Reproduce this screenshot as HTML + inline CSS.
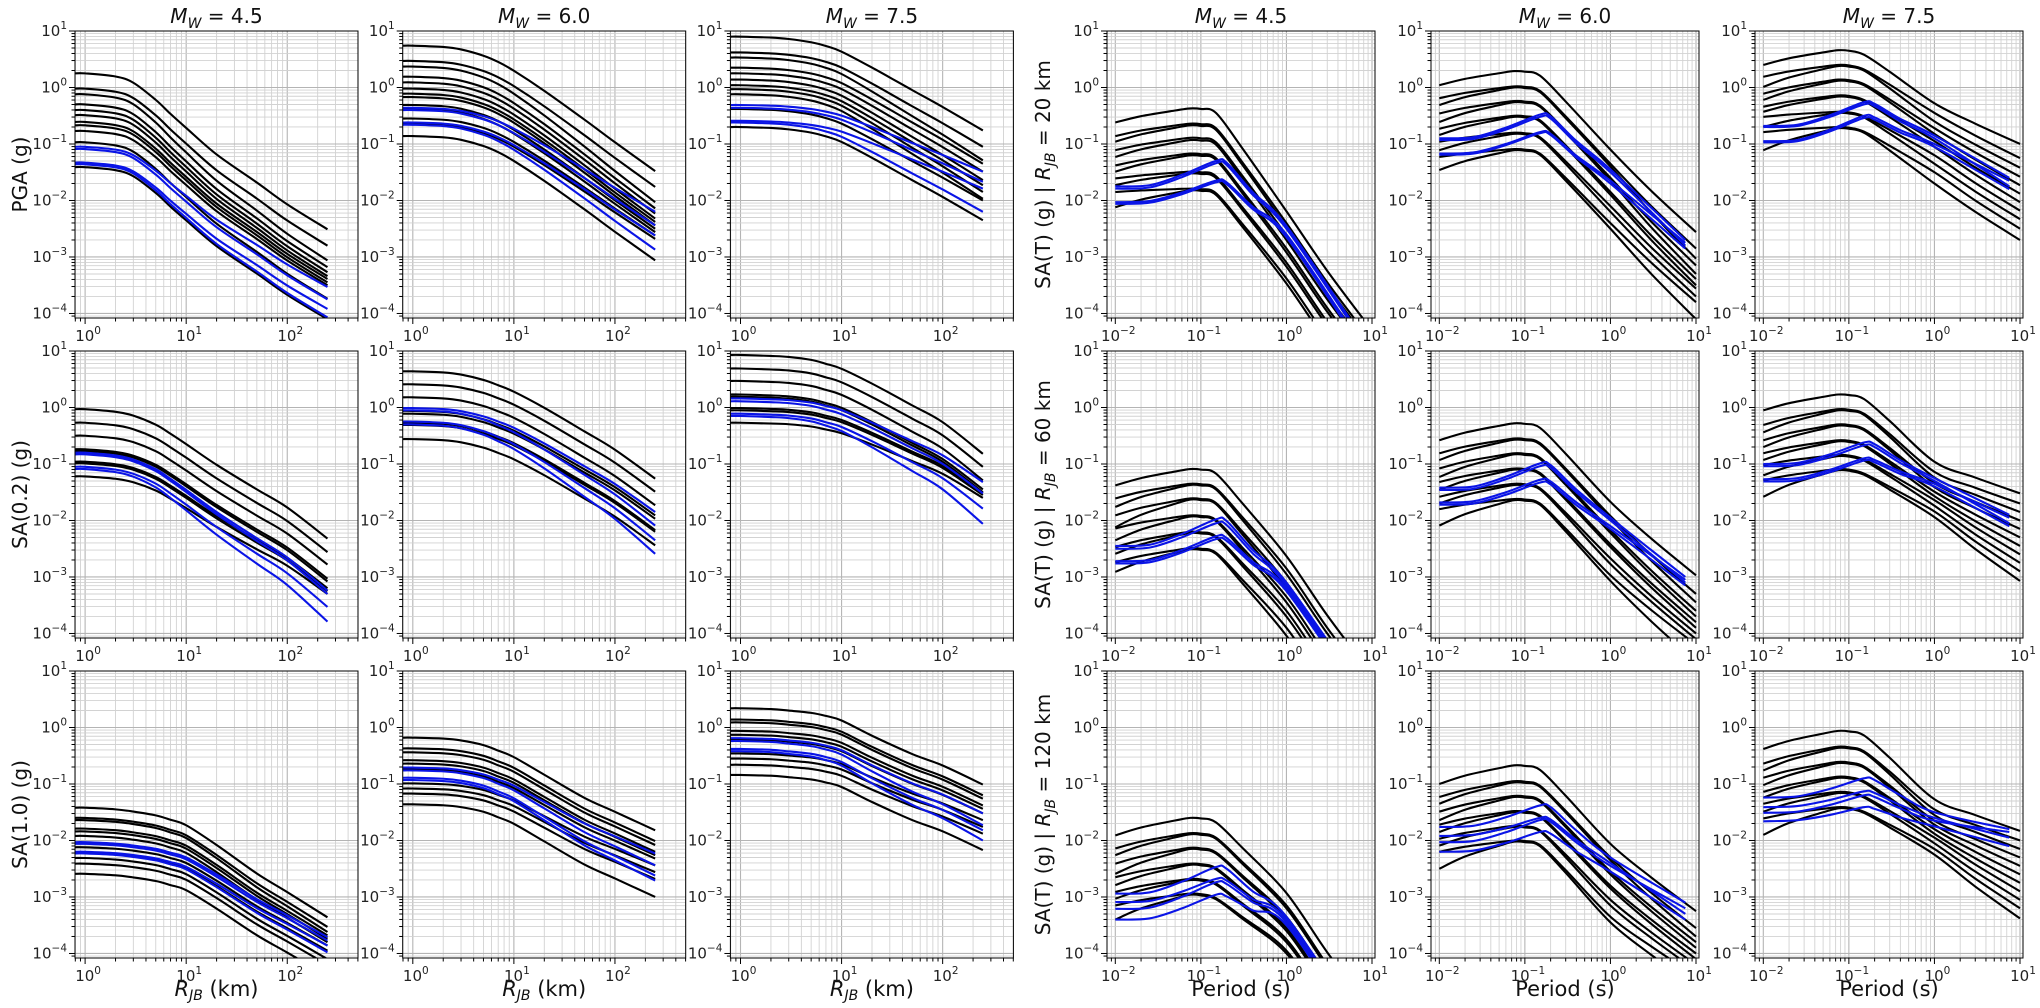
<!DOCTYPE html>
<html><head><meta charset="utf-8"><title>GMM attenuation and spectra</title>
<style>
html,body{margin:0;padding:0;background:#fff;overflow:hidden;width:2040px;height:1008px;}
svg{display:block;font-family:"DejaVu Sans","Liberation Sans",sans-serif;}
</style></head>
<body>
<svg id="chart" width="2040" height="1008" viewBox="0 0 2040 1008" xmlns="http://www.w3.org/2000/svg"></svg>
<script>
// ---------- shared axes data ----------
const distR = [0.8, 1, 2, 3, 5, 7, 10, 20, 50, 100, 250];
const blackT = [0.01, 0.02, 0.05, 0.075, 0.1, 0.15, 0.3, 1, 3, 10];
const blueT = [0.01, 0.025, 0.06, 0.15, 0.2, 0.4, 1, 7.5];
const magTitles = ["4.5", "6.0", "7.5"];
const leftYLabels = ["PGA (g)", "SA(0.2) (g)", "SA(1.0) (g)"];
const rightDistances = ["20", "60", "120"];
const yTickExp = [1, 0, -1, -2, -3, -4];
const leftXTickExp = [0, 1, 2];
const rightXTickExp = [-2, -1, 0, 1];

// ---------- distance panels (log10 values at R=0.8 and R=250) ----------
const pga45Shape = [0,0,0.02,0.06,0.17,0.26,0.35,0.52,0.70,0.84,1];
const pga45BlackNear = [0.25,-0.02,-0.12,-0.3,-0.4,-0.49,-0.61,-0.67,-0.77,-0.97,-1.41];
const pga45BlackFar = [-2.51,-2.8,-3.06,-3.18,-3.27,-3.34,-3.39,-3.45,-3.5,-3.74,-4.1];
const pga45BlueNear = [-1.05,-1.09,-1.33,-1.36];
const pga45BlueFar = [-3.53,-3.75,-3.92,-4.07];

const pga60Shape = [0,0,0.01,0.03,0.08,0.13,0.2,0.36,0.59,0.77,1];
const pga60BlackNear = [0.74,0.47,0.37,0.19,0.09,-0.02,-0.11,-0.17,-0.31,-0.38,-0.55,-0.64,-0.86];
const pga60BlackFar = [-1.48,-1.76,-2.03,-2.14,-2.23,-2.32,-2.38,-2.44,-2.5,-2.56,-2.62,-2.68,-3.06];
const pga60BlueNear = [-0.36,-0.4,-0.62,-0.66];
const pga60BlueFar = [-2.2,-2.44,-2.62,-2.87];

const pga75Shape = [0,0,0.01,0.025,0.06,0.1,0.16,0.33,0.57,0.75,1];
const pga75BlackNear = [0.9,0.62,0.53,0.35,0.25,0.14,0.04,-0.03,-0.12,-0.38,-0.7];
const pga75BlackFar = [-0.76,-1.05,-1.29,-1.35,-1.49,-1.64,-1.73,-1.85,-1.97,-2.0,-2.35];
const pga75BlueNear = [-0.31,-0.36,-0.59,-0.62];
const pga75BlueFar = [-1.49,-1.67,-1.79,-2.2];

const sa02m45Shape = [0,0,0.02,0.05,0.12,0.19,0.27,0.43,0.62,0.76,1];
const sa02m45BlackNear = [-0.03,-0.27,-0.5,-0.74,-0.77,-0.96,-0.99,-1.22];
const sa02m45BlackFar = [-2.32,-2.56,-2.78,-3.03,-3.08,-3.2,-3.25,-3.3];
const sa02m45BlueNear = [-0.8,-0.83,-1.05,-1.09];
const sa02m45BlueFar = [-3.24,-3.3,-3.53,-3.79];

const sa02m60Shape = [0,0,0.01,0.03,0.08,0.13,0.19,0.34,0.56,0.73,1];
const sa02m60BlackNear = [0.64,0.41,0.18,-0.06,-0.11,-0.27,-0.31,-0.56];
const sa02m60BlackFar = [-1.26,-1.49,-1.73,-1.91,-1.97,-2.17,-2.2,-2.44];
const sa02m60BlueNear = [-0.01,-0.05,-0.25,-0.3];
const sa02m60BlueFar = [-1.85,-2.09,-2.35,-2.59];

const sa02m75Shape = [0,0,0.01,0.02,0.05,0.09,0.14,0.29,0.51,0.68,1];
const sa02m75BlackNear = [0.93,0.69,0.47,0.23,0.19,-0.01,-0.05,-0.27];
const sa02m75BlackFar = [-0.82,-1.05,-1.29,-1.45,-1.5,-1.52,-1.55,-1.6];
const sa02m75BlueNear = [0.16,0.11,-0.11,-0.15];
const sa02m75BlueFar = [-1.32,-1.52,-1.79,-2.06];

const sa10m45Shape = [0,0,0.015,0.035,0.07,0.11,0.16,0.34,0.6,0.77,1];
const sa10m45BlackNear = [-1.42,-1.6,-1.64,-1.79,-1.84,-1.92,-2.12,-2.22,-2.31,-2.41,-2.59];
const sa10m45BlackFar = [-3.36,-3.53,-3.62,-3.68,-3.74,-3.8,-3.86,-3.95,-4.1,-4.2,-4.4];
const sa10m45BlueNear = [-2.03,-2.06,-2.2,-2.23];
const sa10m45BlueFar = [-3.71,-3.77,-3.86,-3.98];

const sa10m60Shape = [0,0,0.01,0.03,0.08,0.14,0.21,0.4,0.65,0.8,1];
const sa10m60BlackNear = [-0.18,-0.37,-0.44,-0.58,-0.64,-0.74,-0.99,-1.08,-1.17,-1.36];
const sa10m60BlackFar = [-1.82,-2.01,-2.08,-2.2,-2.26,-2.32,-2.44,-2.56,-2.68,-3.0];
const sa10m60BlueNear = [-0.71,-0.76,-0.89,-0.93];
const sa10m60BlueFar = [-2.23,-2.44,-2.62,-2.71];

const sa10m75Shape = [0,0,0.01,0.03,0.06,0.1,0.16,0.36,0.6,0.75,1];
const sa10m75BlackNear = [0.34,0.14,0.09,-0.06,-0.13,-0.21,-0.46,-0.55,-0.66,-0.84];
const sa10m75BlackFar = [-1.01,-1.2,-1.26,-1.38,-1.44,-1.52,-1.64,-1.76,-1.88,-2.17];
const sa10m75BlueNear = [-0.19,-0.24,-0.38,-0.42];
const sa10m75BlueFar = [-1.52,-1.73,-1.82,-2.0];

// ---------- spectra panels (log10 SA at T=0.01, peak, T=1, T=10) ----------
const r20m45BlackL0 = [-0.62,-0.86,-0.96,-1.11,-1.23,-1.38,-1.49,-1.61,-1.73,-1.85,-2.12];
const r20m45BlackPeak = [-0.37,-0.64,-0.67,-0.89,-0.93,-1.17,-1.2,-1.49,-1.52,-1.79,-1.82];
const r20m45BlackL1 = [-2.19,-2.4,-2.47,-2.62,-2.7,-2.85,-2.92,-3.1,-3.17,-3.38,-3.47];
const r20m45BlackL10 = [-4.3,-4.5,-4.57,-4.72,-4.8,-4.95,-5.02,-5.2,-5.27,-5.48,-5.57];
const r20m45BlueL0 = [-1.75,-1.79,-2.03,-2.06];
const r20m45BluePeak = [-1.3,-1.34,-1.65,-1.68];
const r20m45BlueL1 = [-2.45,-2.5,-2.6,-2.65];
const r20m45BlueL10 = [-4.4,-4.45,-4.55,-4.6];

const r20m60BlackL0 = [0.04,-0.19,-0.31,-0.46,-0.61,-0.73,-0.84,-0.96,-1.11,-1.23,-1.46];
const r20m60BlackPeak = [0.29,0.02,0.0,-0.24,-0.26,-0.5,-0.52,-0.8,-0.82,-1.09,-1.11];
const r20m60BlackL1 = [-1.1,-1.35,-1.4,-1.6,-1.65,-1.85,-1.9,-2.1,-2.2,-2.4,-2.5];
const r20m60BlackL10 = [-2.56,-2.85,-3.03,-3.15,-3.3,-3.39,-3.5,-3.56,-3.7,-3.8,-4.1];
const r20m60BlueL0 = [-0.9,-0.93,-1.17,-1.19];
const r20m60BluePeak = [-0.48,-0.52,-0.79,-0.81];
const r20m60BlueL1 = [-1.45,-1.5,-1.65,-1.7];
const r20m60BlueL10 = [-2.7,-2.8,-2.75,-2.85];

const r20m75BlackL0 = [0.4,0.19,0.01,-0.11,-0.22,-0.34,-0.43,-0.52,-0.7,-0.79,-1.11];
const r20m75BlackPeak = [0.66,0.4,0.38,0.14,0.12,-0.14,-0.16,-0.43,-0.45,-0.7,-0.72];
const r20m75BlackL1 = [-0.28,-0.45,-0.6,-0.72,-0.82,-0.95,-1.05,-1.2,-1.35,-1.5,-1.7];
const r20m75BlackL10 = [-1.0,-1.25,-1.42,-1.58,-1.73,-1.88,-2.03,-2.18,-2.33,-2.5,-2.7];
const r20m75BlueL0 = [-0.68,-0.7,-0.95,-0.97];
const r20m75BluePeak = [-0.26,-0.3,-0.5,-0.54];
const r20m75BlueL1 = [-0.85,-0.9,-1.0,-1.05];
const r20m75BlueL10 = [-1.6,-1.75,-1.65,-1.8];

const r60m45BlackL0 = [-1.38,-1.61,-1.76,-1.91,-2.12,-2.14,-2.35,-2.47,-2.59,-2.74,-2.91];
const r60m45BlackPeak = [-1.09,-1.35,-1.37,-1.61,-1.63,-1.91,-1.93,-2.2,-2.22,-2.49,-2.51];
const r60m45BlackL1 = [-2.63,-2.85,-2.95,-3.1,-3.2,-3.35,-3.45,-3.6,-3.7,-3.9,-4.04];
const r60m45BlackL10 = [-4.73,-4.95,-5.05,-5.2,-5.3,-5.45,-5.55,-5.7,-5.8,-6.0,-6.14];
const r60m45BlueL0 = [-2.45,-2.5,-2.72,-2.76];
const r60m45BluePeak = [-1.98,-2.05,-2.28,-2.33];
const r60m45BlueL1 = [-3.1,-3.15,-3.2,-3.25];
const r60m45BlueL10 = [-5.0,-5.05,-5.1,-5.15];

const r60m60BlackL0 = [-0.58,-0.81,-0.93,-1.08,-1.23,-1.32,-1.46,-1.58,-1.7,-1.8,-2.09];
const r60m60BlackPeak = [-0.28,-0.55,-0.57,-0.81,-0.83,-1.08,-1.1,-1.35,-1.37,-1.62,-1.64];
const r60m60BlackL1 = [-1.67,-1.92,-1.97,-2.17,-2.22,-2.42,-2.47,-2.67,-2.77,-2.97,-3.07];
const r60m60BlackL10 = [-2.97,-3.3,-3.45,-3.6,-3.7,-3.8,-3.9,-4.0,-4.1,-4.2,-4.5];
const r60m60BlueL0 = [-1.42,-1.46,-1.68,-1.72];
const r60m60BluePeak = [-0.99,-1.04,-1.28,-1.33];
const r60m60BlueL1 = [-1.95,-2.0,-2.1,-2.15];
const r60m60BlueL10 = [-3.0,-3.1,-3.05,-3.15];

const r60m75BlackL0 = [-0.05,-0.31,-0.44,-0.58,-0.7,-0.81,-0.93,-1.02,-1.2,-1.29,-1.58];
const r60m75BlackPeak = [0.23,-0.03,-0.05,-0.3,-0.32,-0.58,-0.6,-0.84,-0.86,-1.09,-1.11];
const r60m75BlackL1 = [-0.96,-1.14,-1.24,-1.34,-1.41,-1.49,-1.57,-1.64,-1.74,-1.84,-1.94];
const r60m75BlackL10 = [-1.52,-1.7,-1.85,-2.0,-2.15,-2.3,-2.45,-2.6,-2.75,-2.9,-3.07];
const r60m75BlueL0 = [-1.0,-1.04,-1.27,-1.31];
const r60m75BluePeak = [-0.62,-0.67,-0.9,-0.94];
const r60m75BlueL1 = [-1.25,-1.3,-1.35,-1.4];
const r60m75BlueL10 = [-1.9,-2.05,-1.95,-2.1];

const r120m45BlackL0 = [-1.91,-2.14,-2.26,-2.41,-2.59,-2.65,-2.79,-2.91,-3.03,-3.15,-3.4];
const r120m45BlackPeak = [-1.6,-1.87,-1.89,-2.13,-2.15,-2.41,-2.43,-2.68,-2.7,-2.94,-2.96];
const r120m45BlackL1 = [-2.93,-3.15,-3.2,-3.35,-3.4,-3.55,-3.6,-3.75,-3.8,-3.95,-4.0];
const r120m45BlackL10 = [-5.03,-5.25,-5.3,-5.45,-5.5,-5.65,-5.7,-5.85,-5.9,-6.05,-6.1];
const r120m45BlueL0 = [-2.94,-3.09,-3.21,-3.4];
const r120m45BluePeak = [-2.47,-2.68,-2.74,-2.96];
const r120m45BlueL1 = [-3.35,-3.4,-3.45,-3.5];
const r120m45BlueL10 = [-5.3,-5.35,-5.4,-5.45];

const r120m60BlackL0 = [-1.0,-1.23,-1.35,-1.49,-1.64,-1.72,-1.85,-1.97,-2.09,-2.2,-2.5];
const r120m60BlackPeak = [-0.67,-0.95,-0.97,-1.21,-1.23,-1.48,-1.5,-1.74,-1.76,-2.0,-2.02];
const r120m60BlackL1 = [-2.06,-2.3,-2.35,-2.55,-2.6,-2.8,-2.85,-3.05,-3.15,-3.35,-3.45];
const r120m60BlackL10 = [-3.25,-3.55,-3.7,-3.8,-3.9,-4.0,-4.1,-4.2,-4.3,-4.4,-4.6];
const r120m60BlueL0 = [-1.76,-1.92,-2.03,-2.2];
const r120m60BluePeak = [-1.38,-1.6,-1.64,-1.85];
const r120m60BlueL1 = [-2.3,-2.4,-2.45,-2.55];
const r120m60BlueL10 = [-3.1,-3.3,-3.2,-3.4];

const r120m75BlackL0 = [-0.38,-0.64,-0.76,-0.89,-1.02,-1.14,-1.24,-1.35,-1.49,-1.61,-1.9];
const r120m75BlackPeak = [-0.06,-0.34,-0.36,-0.61,-0.63,-0.87,-0.89,-1.14,-1.16,-1.41,-1.43];
const r120m75BlackL1 = [-1.27,-1.45,-1.55,-1.65,-1.72,-1.8,-1.88,-1.95,-2.05,-2.15,-2.25];
const r120m75BlackL10 = [-1.83,-2.0,-2.15,-2.3,-2.45,-2.6,-2.75,-2.9,-3.05,-3.2,-3.38];
const r120m75BlueL0 = [-1.24,-1.41,-1.51,-1.66];
const r120m75BluePeak = [-0.9,-1.13,-1.2,-1.41];
const r120m75BlueL1 = [-1.5,-1.6,-1.65,-1.75];
const r120m75BlueL10 = [-1.8,-1.95,-1.85,-2.1];

const distPanels = [
 {row:0,col:0,shape:pga45Shape,bN:pga45BlackNear,bF:pga45BlackFar,uN:pga45BlueNear,uF:pga45BlueFar},
 {row:0,col:1,shape:pga60Shape,bN:pga60BlackNear,bF:pga60BlackFar,uN:pga60BlueNear,uF:pga60BlueFar},
 {row:0,col:2,shape:pga75Shape,bN:pga75BlackNear,bF:pga75BlackFar,uN:pga75BlueNear,uF:pga75BlueFar},
 {row:1,col:0,shape:sa02m45Shape,bN:sa02m45BlackNear,bF:sa02m45BlackFar,uN:sa02m45BlueNear,uF:sa02m45BlueFar},
 {row:1,col:1,shape:sa02m60Shape,bN:sa02m60BlackNear,bF:sa02m60BlackFar,uN:sa02m60BlueNear,uF:sa02m60BlueFar},
 {row:1,col:2,shape:sa02m75Shape,bN:sa02m75BlackNear,bF:sa02m75BlackFar,uN:sa02m75BlueNear,uF:sa02m75BlueFar},
 {row:2,col:0,shape:sa10m45Shape,bN:sa10m45BlackNear,bF:sa10m45BlackFar,uN:sa10m45BlueNear,uF:sa10m45BlueFar},
 {row:2,col:1,shape:sa10m60Shape,bN:sa10m60BlackNear,bF:sa10m60BlackFar,uN:sa10m60BlueNear,uF:sa10m60BlueFar},
 {row:2,col:2,shape:sa10m75Shape,bN:sa10m75BlackNear,bF:sa10m75BlackFar,uN:sa10m75BlueNear,uF:sa10m75BlueFar}
];
const specPanels = [
 {row:0,col:0,b:[r20m45BlackL0,r20m45BlackPeak,r20m45BlackL1,r20m45BlackL10],u:[r20m45BlueL0,r20m45BluePeak,r20m45BlueL1,r20m45BlueL10]},
 {row:0,col:1,b:[r20m60BlackL0,r20m60BlackPeak,r20m60BlackL1,r20m60BlackL10],u:[r20m60BlueL0,r20m60BluePeak,r20m60BlueL1,r20m60BlueL10]},
 {row:0,col:2,b:[r20m75BlackL0,r20m75BlackPeak,r20m75BlackL1,r20m75BlackL10],u:[r20m75BlueL0,r20m75BluePeak,r20m75BlueL1,r20m75BlueL10]},
 {row:1,col:0,b:[r60m45BlackL0,r60m45BlackPeak,r60m45BlackL1,r60m45BlackL10],u:[r60m45BlueL0,r60m45BluePeak,r60m45BlueL1,r60m45BlueL10]},
 {row:1,col:1,b:[r60m60BlackL0,r60m60BlackPeak,r60m60BlackL1,r60m60BlackL10],u:[r60m60BlueL0,r60m60BluePeak,r60m60BlueL1,r60m60BlueL10]},
 {row:1,col:2,b:[r60m75BlackL0,r60m75BlackPeak,r60m75BlackL1,r60m75BlackL10],u:[r60m75BlueL0,r60m75BluePeak,r60m75BlueL1,r60m75BlueL10]},
 {row:2,col:0,b:[r120m45BlackL0,r120m45BlackPeak,r120m45BlackL1,r120m45BlackL10],u:[r120m45BlueL0,r120m45BluePeak,r120m45BlueL1,r120m45BlueL10]},
 {row:2,col:1,b:[r120m60BlackL0,r120m60BlackPeak,r120m60BlackL1,r120m60BlackL10],u:[r120m60BlueL0,r120m60BluePeak,r120m60BlueL1,r120m60BlueL10]},
 {row:2,col:2,b:[r120m75BlackL0,r120m75BlackPeak,r120m75BlackL1,r120m75BlackL10],u:[r120m75BlueL0,r120m75BluePeak,r120m75BlueL1,r120m75BlueL10]}
];

// ---------- layout ----------
const NS = 'http://www.w3.org/2000/svg';
const svg = document.getElementById('chart');
const ROW_Y = [31, 351, 671], PH = 287;
const LCOL_X = [75, 402.7, 730.4], LW = 283;
const RCOL_X = [1107, 1431, 1755], RW = 268;
const YMAX = 1, YMIN = -4.08;
const LXMIN = -0.1, LXMAX = 2.70, RXMIN = -2.097, RXMAX = 1.035;

function mk(tag, attrs, parent){
  const e = document.createElementNS(NS, tag);
  for (const k in attrs) e.setAttribute(k, attrs[k]);
  parent.appendChild(e);
  return e;
}
function axis(x0, y0, w, xmin, xmax){
  return {
    sx: lx => x0 + (lx - xmin) / (xmax - xmin) * w,
    sy: ly => y0 + (YMAX - ly) / (YMAX - YMIN) * PH
  };
}
function pow10Label(parent, x, y, exp, anchor){
  const t = mk('text', {x:x, y:y, 'font-size':15, fill:'#222', 'text-anchor':anchor}, parent);
  
  
  t.appendChild(document.createTextNode('10'));
  const s = mk('tspan', {'font-size':10.5, dy:-7}, t);
  s.textContent = exp < 0 ? '\u2212' + (-exp) : String(exp);
  return t;
}
function smoothPath(pts){
  let d = 'M' + pts[0][0].toFixed(2) + ',' + pts[0][1].toFixed(2);
  for (let i = 0; i < pts.length - 1; i++){
    const p0 = pts[i-1] || pts[i], p1 = pts[i], p2 = pts[i+1], p3 = pts[i+2] || p2;
    const c1x = p1[0] + (p2[0]-p0[0])/6, c1y = p1[1] + (p2[1]-p0[1])/6;
    const c2x = p2[0] - (p3[0]-p1[0])/6, c2y = p2[1] - (p3[1]-p1[1])/6;
    d += ' C' + c1x.toFixed(2)+','+c1y.toFixed(2)+' '+c2x.toFixed(2)+','+c2y.toFixed(2)+' '+p2[0].toFixed(2)+','+p2[1].toFixed(2);
  }
  return d;
}

let clipId = 0;
function drawFrame(x0, y0, w, xmin, xmax, xExps, name){
  const g = mk('g', {}, svg);
  
  
  const ax = axis(x0, y0, w, xmin, xmax);
  const grid = mk('g', {}, g);
  
  
  const ticks = mk('g', {stroke:'#000'}, g);
  
  
  const yb = y0 + PH;
  for (let d = Math.floor(xmin); d <= Math.ceil(xmax); d++){
    for (let k = 1; k <= 9; k++){
      const lx = d + Math.log10(k);
      if (lx < xmin || lx > xmax) continue;
      const X = ax.sx(lx);
      mk('line', {x1:X, x2:X, y1:y0, y2:yb, stroke: k===1?'#b4b4b4':'#d2d2d2', 'stroke-width': k===1?1.1:0.9}, grid);
      mk('line', {x1:X, x2:X, y1:yb, y2:yb+(k===1?6:3.5), 'stroke-width':1}, ticks);
    }
  }
  for (let d = -5; d <= 1; d++){
    for (let k = 1; k <= 9; k++){
      const ly = d + Math.log10(k);
      if (ly < YMIN || ly > YMAX) continue;
      const Y = ax.sy(ly);
      mk('line', {x1:x0, x2:x0+w, y1:Y, y2:Y, stroke: k===1?'#b4b4b4':'#d2d2d2', 'stroke-width': k===1?1.1:0.9}, grid);
      mk('line', {x1:x0-(k===1?6:3.5), x2:x0, y1:Y, y2:Y, 'stroke-width':1}, ticks);
    }
  }
  yTickExp.forEach(e => pow10Label(g, x0 - 8, ax.sy(e) + 5, e, 'end'));
  xExps.forEach(e => pow10Label(g, ax.sx(e) + 3, yb + 23, e, 'middle'));
  clipId++;
  const cp = mk('clipPath', {id:'clip'+clipId}, svg);
  mk('rect', {x:x0, y:y0, width:w, height:PH}, cp);
  const curves = mk('g', {'clip-path':'url(#clip'+clipId+')', fill:'none', 'stroke-linejoin':'round'}, g);
  
  
  const frame = mk('rect', {x:x0, y:y0, width:w, height:PH, fill:'none', stroke:'#000', 'stroke-width':1}, g);
  
  
  return {ax, curves};
}

// ---------- distance panels ----------
distPanels.forEach(p => {
  const x0 = LCOL_X[p.col], y0 = ROW_Y[p.row];
  const f = drawFrame(x0, y0, LW, LXMIN, LXMAX, leftXTickExp, 'distance-panel-r'+p.row+'-c'+p.col);
  const drawCurve = (near, far, color, name) => {
    const pts = distR.map((R,i) => [f.ax.sx(Math.log10(R)), f.ax.sy(near + (far - near) * p.shape[i])]);
    const path = mk('path', {d:smoothPath(pts), stroke:color, 'stroke-width':2.1}, f.curves);
    
    
  };
  p.bN.forEach((v,i) => drawCurve(v, p.bF[i], '#000', 'black-curve'));
  p.uN.forEach((v,i) => drawCurve(v, p.uF[i], '#0a14e6', 'blue-curve'));
});

// ---------- spectra panels ----------
specPanels.forEach(p => {
  const x0 = RCOL_X[p.col], y0 = ROW_Y[p.row];
  const f = drawFrame(x0, y0, RW, RXMIN, RXMAX, rightXTickExp, 'spectra-panel-r'+p.row+'-c'+p.col);
  p.b[0].forEach((L0,i) => {
    const Lp = p.b[1][i], L1 = p.b[2][i], L10 = p.b[3][i];
    const L15 = Lp - 0.08;
    const ys = [L0, L0+0.45*(Lp-L0), L0+0.85*(Lp-L0), Lp, Lp-0.01, L15, L15+0.35*(L1-L15), L1, L1+0.5*(L10-L1), L10];
    const pts = blackT.map((T,j) => [f.ax.sx(Math.log10(T)), f.ax.sy(ys[j])]);
    const path = mk('path', {d:smoothPath(pts), stroke:'#000', 'stroke-width':2.1}, f.curves);
    
    
  });
  p.u[0].forEach((L0,i) => {
    const Lp = p.u[1][i], L1 = p.u[2][i], L10 = p.u[3][i];
    const ys = [L0, L0+0.02, L0+0.45*(Lp-L0), Lp, Lp-0.03, Lp-0.03+0.45*(L1-Lp), L1, L10];
    const pts = blueT.map((T,j) => [f.ax.sx(Math.log10(T)), f.ax.sy(ys[j])]);
    const path = mk('path', {d:smoothPath(pts), stroke:'#0a14e6', 'stroke-width':2.1}, f.curves);
    
    
  });
});

// ---------- titles & labels ----------
function magTitle(cx, mag){
  const t = mk('text', {x:cx, y:23, 'font-size':20, 'text-anchor':'middle', fill:'#111'}, svg);
  
  
  const a = mk('tspan', {'font-style':'italic'}, t); a.textContent = 'M';
  const b = mk('tspan', {'font-style':'italic', 'font-size':14, dy:5}, t); b.textContent = 'W';
  const c = mk('tspan', {dy:-5}, t); c.textContent = ' = ' + mag;
}
magTitles.forEach((m,i) => { magTitle(LCOL_X[i] + LW/2, m); magTitle(RCOL_X[i] + RW/2, m); });

leftYLabels.forEach((lab,i) => {
  const cy = ROW_Y[i] + PH/2;
  const t = mk('text', {x:0, y:0, 'font-size':20, 'text-anchor':'middle', fill:'#111', transform:'translate(27,'+cy+') rotate(-90)'}, svg);
  
  
  t.textContent = lab;
});
rightDistances.forEach((d,i) => {
  const cy = ROW_Y[i] + PH/2;
  const t = mk('text', {x:0, y:0, 'font-size':20, 'text-anchor':'middle', fill:'#111', transform:'translate(1050,'+cy+') rotate(-90)'}, svg);
  
  
  const a = mk('tspan', {}, t); a.textContent = 'SA(T) (g) | ';
  const b = mk('tspan', {'font-style':'italic'}, t); b.textContent = 'R';
  const c = mk('tspan', {'font-style':'italic', 'font-size':14, dy:5}, t); c.textContent = 'JB';
  const e = mk('tspan', {dy:-5}, t); e.textContent = ' = ' + d + ' km';
});
LCOL_X.forEach(x0 => {
  const t = mk('text', {x:x0 + LW/2, y:996, 'font-size':21, 'text-anchor':'middle', fill:'#111'}, svg);
  
  
  const a = mk('tspan', {'font-style':'italic'}, t); a.textContent = 'R';
  const b = mk('tspan', {'font-style':'italic', 'font-size':14, dy:4}, t); b.textContent = 'JB';
  const c = mk('tspan', {dy:-4}, t); c.textContent = ' (km)';
});
RCOL_X.forEach(x0 => {
  const t = mk('text', {x:x0 + RW/2, y:996, 'font-size':21, 'text-anchor':'middle', fill:'#111'}, svg);
  
  
  t.textContent = 'Period (s)';
});
</script>
</body></html>
